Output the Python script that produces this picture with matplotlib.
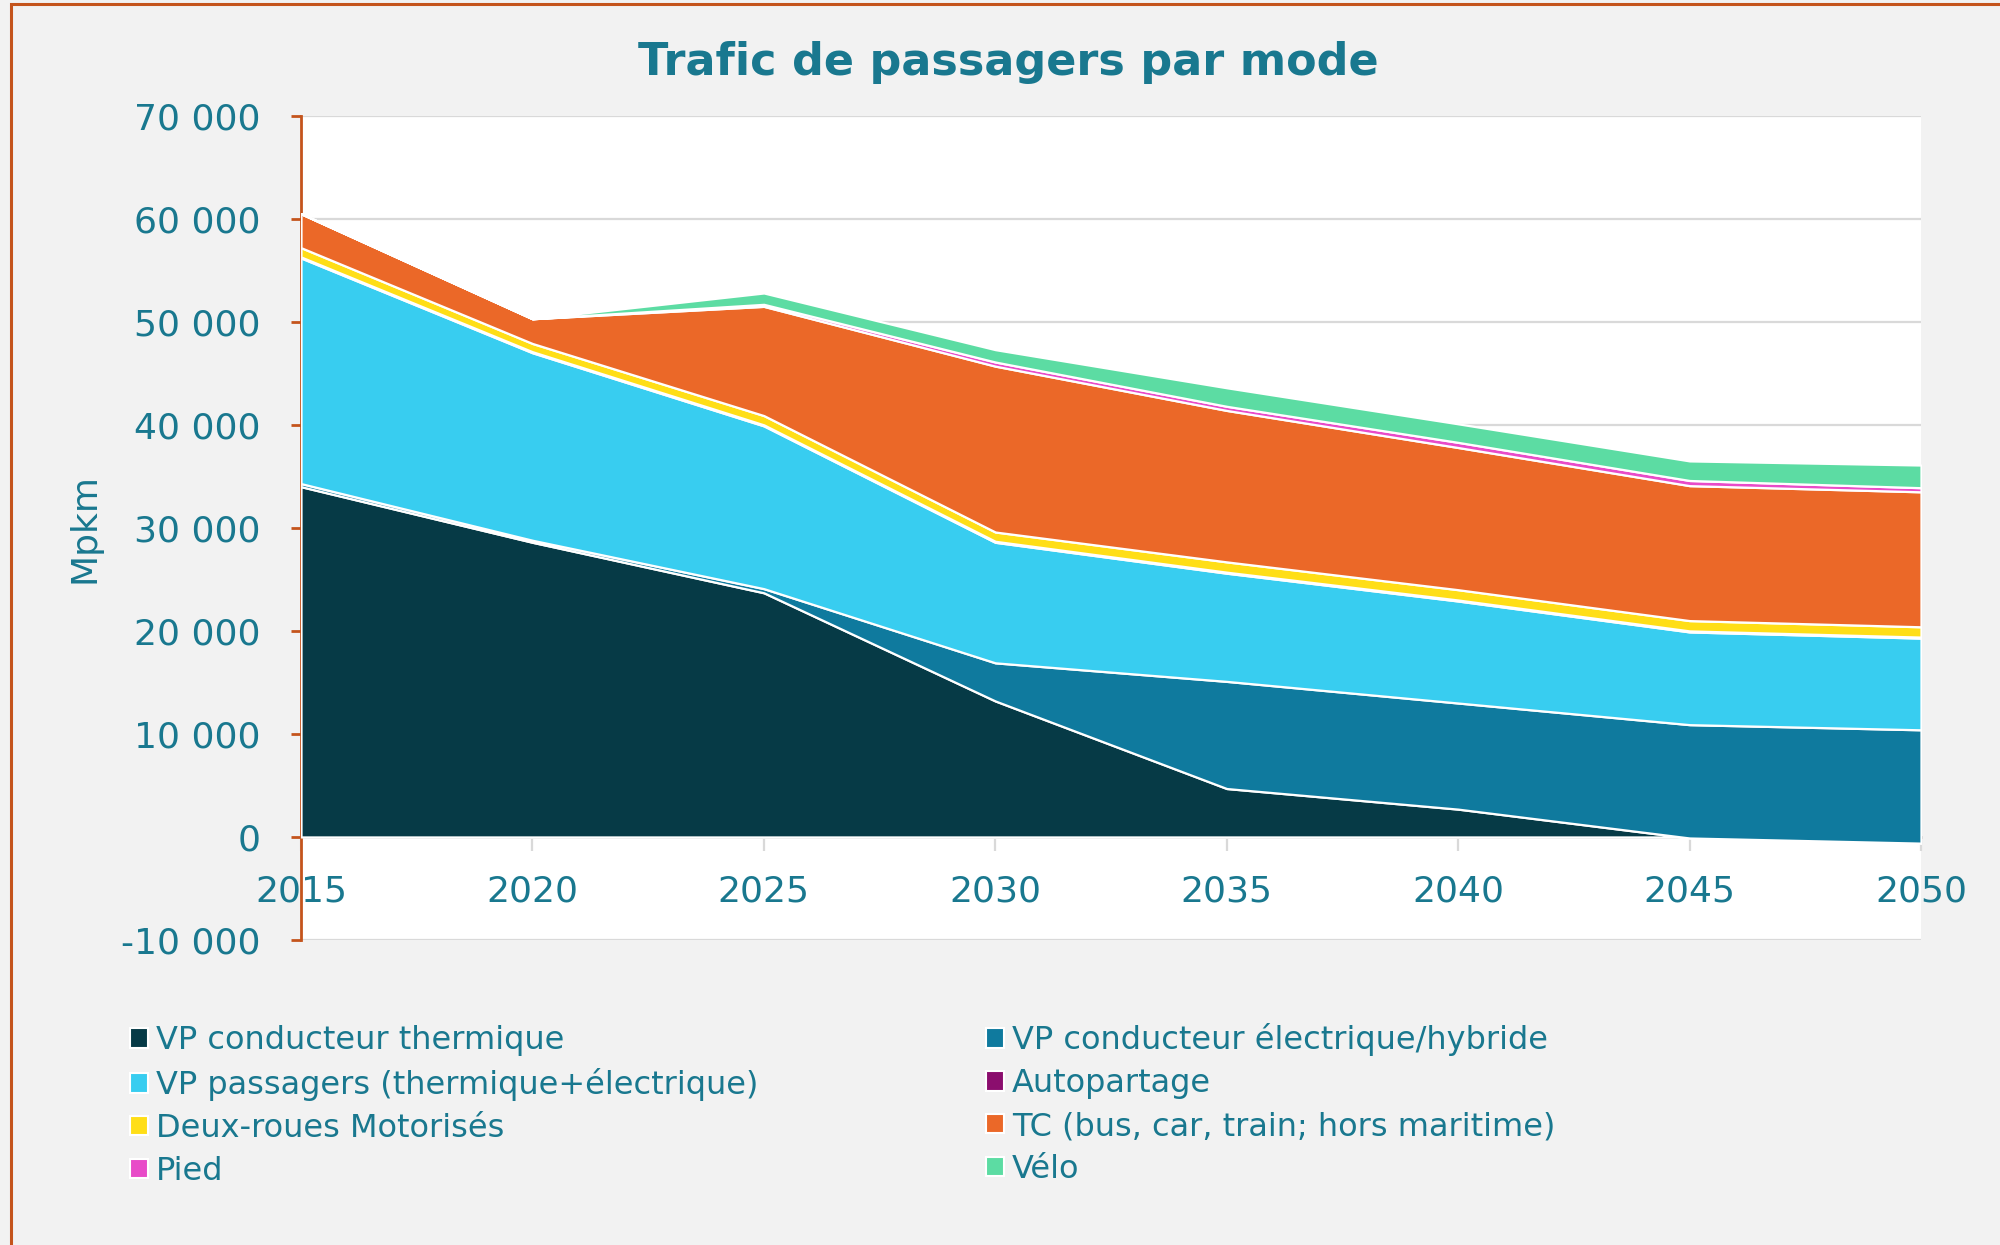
import matplotlib
matplotlib.use("Agg")
import matplotlib.pyplot as plt
from matplotlib.patches import Patch, Rectangle
from matplotlib.ticker import FuncFormatter
import numpy as np

# data (Mpkm)
years = [2015, 2020, 2025, 2030, 2035, 2040, 2045, 2050]
vp_thermique = [34000, 28600, 23700, 13200, 4700, 2700, -100, -600]
vp_electrique = [300, 200, 400, 3700, 10400, 10300, 11000, 11000]
vp_passagers = [21900, 18200, 15800, 11700, 10500, 9900, 9000, 8900]
autopartage = [100, 100, 100, 100, 100, 100, 100, 100]
deux_roues = [900, 800, 900, 900, 1000, 1000, 1000, 1000]
tc = [3300, 2400, 10600, 16100, 14700, 13800, 13100, 13100]
pied = [0, 0, 200, 400, 400, 500, 500, 400]
velo = [0, 0, 1100, 1200, 1800, 1800, 1900, 2200]

labels = ["VP conducteur thermique", "VP conducteur électrique/hybride",
          "VP passagers (thermique+électrique)", "Autopartage",
          "Deux-roues Motorisés", "TC (bus, car, train; hors maritime)",
          "Pied", "Vélo"]
series = [vp_thermique, vp_electrique, vp_passagers, autopartage,
          deux_roues, tc, pied, velo]
colors = ["#063a46", "#0f7a9e", "#38cdf0", "#8b0e6e",
          "#ffde17", "#eb6828", "#e84bc8", "#5cdca3"]

TEXT = "#19788f"
ORANGE = "#c4541c"
GRID = "#d9d9d9"

fig = plt.figure(figsize=(20, 12.45), dpi=100, facecolor="#f2f2f2")
ax = fig.add_axes([0.1505, 0.245, 0.81, 0.662])
ax.set_facecolor("white")

x = np.array(years)
base = np.zeros(len(years))
for vals, col in zip(series, colors):
    top = base + np.array(vals)
    ax.fill_between(x, base, top, facecolor=col, edgecolor="white",
                    linewidth=1.6, zorder=3)
    base = top

ax.set_xlim(2015, 2050)
ax.set_ylim(-10000, 70000)
ax.set_xticks(years)
ax.set_yticks(np.arange(-10000, 70001, 10000))
ax.yaxis.set_major_formatter(FuncFormatter(lambda v, p: f"{int(v):,}".replace(",", " ")))

ax.grid(axis="y", color=GRID, linewidth=1.6, zorder=0)
ax.set_axisbelow(True)

for s in ["top", "right"]:
    ax.spines[s].set_visible(False)
ax.spines["bottom"].set_position(("data", 0))
ax.spines["bottom"].set_color(GRID)
ax.spines["bottom"].set_linewidth(2)
ax.spines["bottom"].set_zorder(2)
ax.spines["left"].set_color(ORANGE)
ax.spines["left"].set_linewidth(2)

ax.tick_params(axis="y", direction="out", length=7, width=2, color=ORANGE,
               labelsize=26, labelcolor=TEXT, pad=22)
ax.tick_params(axis="x", direction="out", length=10, width=1.6, color=GRID,
               labelsize=26, labelcolor=TEXT, pad=17)

ax.set_ylabel("Mpkm", fontsize=26, color=TEXT)
ax.yaxis.set_label_coords(-0.123, 0.5)

fig.text(0.504, 0.950, "Trafic de passagers par mode", ha="center", va="center",
         fontsize=32, fontweight="bold", color=TEXT)

# legend, row-major like the reference
handles = [Patch(facecolor=c, edgecolor="white", linewidth=1.5) for c in colors]
order = [0, 2, 4, 6, 1, 3, 5, 7]
ax.legend([handles[i] for i in order], [labels[i] for i in order],
          ncol=2, loc="upper left", bbox_to_anchor=(0.065, 0.178),
          bbox_transform=fig.transFigure, frameon=False, fontsize=23,
          labelcolor=TEXT, handlelength=0.55, handleheight=0.55,
          handletextpad=0.25, labelspacing=0.37, columnspacing=7.15,
          borderpad=0, borderaxespad=0)

# outer frame of the chart object
fig.patches.append(Rectangle((11 / 2000, -0.01), 1.0, 1 - 4 / 1245 + 0.01,
                             transform=fig.transFigure, fill=False,
                             edgecolor=ORANGE, linewidth=2.2))

fig.savefig("out.png", dpi=100, facecolor=fig.get_facecolor())
